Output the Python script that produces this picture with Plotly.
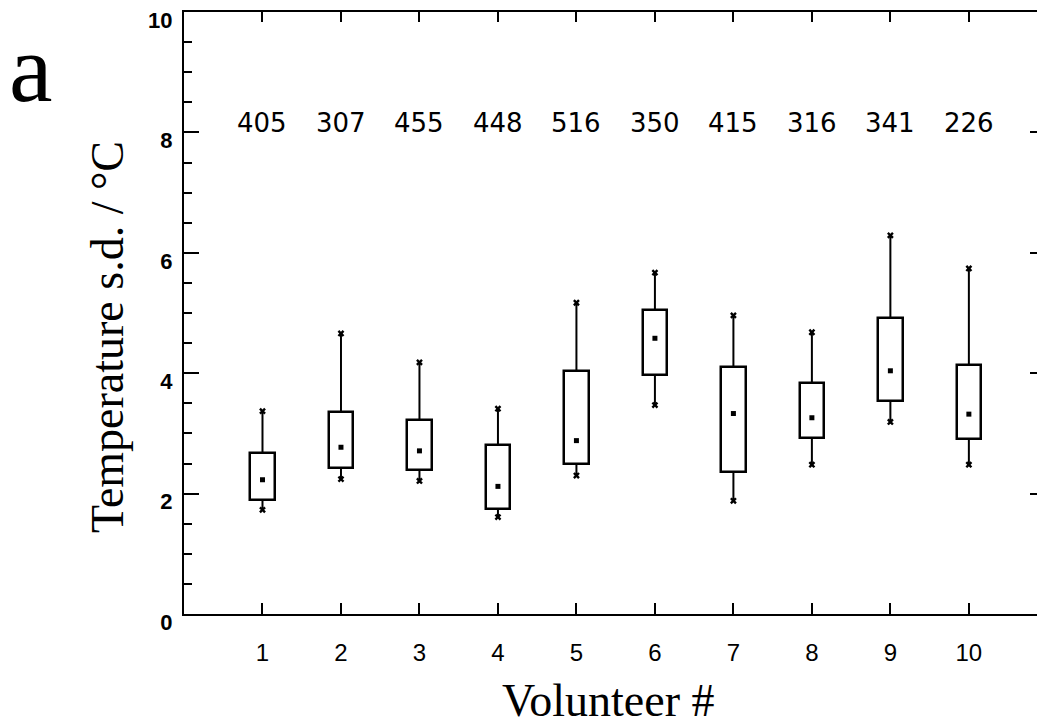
import plotly.graph_objects as go

# ---- data ----
volunteers = [1, 2, 3, 4, 5, 6, 7, 8, 9, 10]
counts = [405, 307, 455, 448, 516, 350, 415, 316, 341, 226]
whisker_low = [1.73, 2.24, 2.21, 1.61, 2.30, 3.47, 1.88, 2.48, 3.19, 2.48]
box_low = [1.90, 2.43, 2.40, 1.74, 2.50, 3.97, 2.36, 2.92, 3.53, 2.90]
mean_val = [2.23, 2.77, 2.71, 2.12, 2.88, 4.58, 3.33, 3.26, 4.04, 3.32]
box_high = [2.67, 3.35, 3.22, 2.80, 4.03, 5.05, 4.10, 3.84, 4.92, 4.13]
whisker_high = [3.37, 4.66, 4.18, 3.41, 5.17, 5.67, 4.96, 4.68, 6.29, 5.74]
y_ticks = [0, 2, 4, 6, 8, 10]

# figure geometry (pixels); the page body adds an 8px offset
OFF = 8
W, H = 1037, 718
L, R, T, B = 176, 0, 4, 112
plot_w = W - L - R
plot_h = H - T - B

def px_x(px):
    return (px - OFF - L) / plot_w

def px_y(py):
    return (H - B - (py - OFF)) / plot_h

fig = go.Figure()

# boxes as floating bars
fig.add_trace(go.Bar(
    x=volunteers,
    base=box_low,
    y=[h - l for h, l in zip(box_high, box_low)],
    width=0.31,
    marker=dict(color="white", line=dict(color="black", width=2.5)),
    showlegend=False, hoverinfo="skip",
))

# whiskers
wx, wy = [], []
for v, lo, bl, bh, hi in zip(volunteers, whisker_low, box_low, box_high, whisker_high):
    wx += [v, v, None, v, v, None]
    wy += [hi, bh, None, bl, lo, None]
fig.add_trace(go.Scatter(
    x=wx, y=wy, mode="lines",
    line=dict(color="black", width=2),
    showlegend=False, hoverinfo="skip",
))

# whisker end markers
fig.add_trace(go.Scatter(
    x=volunteers + volunteers, y=whisker_high + whisker_low, mode="markers",
    marker=dict(symbol="x", size=6, color="black"),
    showlegend=False, hoverinfo="skip",
))

# mean markers
fig.add_trace(go.Scatter(
    x=volunteers, y=mean_val, mode="markers",
    marker=dict(symbol="square", size=5, color="black"),
    showlegend=False, hoverinfo="skip",
))

# dummy trace to activate secondary axes (top / right ticks)
fig.add_trace(go.Scatter(x=[None], y=[None], xaxis="x2", yaxis="y2",
                         showlegend=False, hoverinfo="skip"))

# count labels
for v, c in zip(volunteers, counts):
    fig.add_annotation(x=v, y=8.16, xref="x", yref="y", text=str(c),
                       showarrow=False, xanchor="center", yanchor="middle",
                       font=dict(family="DejaVu Sans", size=26, color="black"))

# axis titles and panel letter
fig.add_annotation(x=px_x(107), y=px_y(337), xref="paper", yref="paper",
                   text="Temperature s.d. / °C", textangle=-90, showarrow=False,
                   xanchor="center", yanchor="middle",
                   font=dict(family="Liberation Serif", size=46, color="black"))
fig.add_annotation(x=px_x(608), y=px_y(700), xref="paper", yref="paper",
                   text="Volunteer #", showarrow=False,
                   xanchor="center", yanchor="middle",
                   font=dict(family="Liberation Serif", size=46, color="black"))
fig.add_annotation(x=px_x(31), y=px_y(68), xref="paper", yref="paper",
                   text="a", showarrow=False,
                   xanchor="center", yanchor="middle",
                   font=dict(family="Liberation Serif", size=98, color="black"))

xr = [0, 10.97]
fig.update_layout(
    width=W, height=H,
    margin=dict(l=L, r=R, t=T, b=B, autoexpand=False),
    paper_bgcolor="white", plot_bgcolor="white",
    bargap=0,
    xaxis=dict(
        range=xr, tickvals=volunteers, ticktext=[str(v) for v in volunteers],
        ticks="inside", ticklen=11, tickwidth=2, tickcolor="black",
        showline=True, linewidth=2, linecolor="black",
        showgrid=False, zeroline=False, automargin=False,
        tickfont=dict(family="Liberation Sans", size=24, color="black"),
        ticklabelstandoff=16,
    ),
    xaxis2=dict(
        range=xr, overlaying="x", side="top", tickvals=volunteers,
        ticks="inside", ticklen=10, tickwidth=2, tickcolor="black",
        showline=True, linewidth=2, linecolor="black", automargin=False,
        showticklabels=False, showgrid=False, zeroline=False,
    ),
    yaxis=dict(
        range=[0, 10], tickvals=y_ticks,
        ticks="inside", ticklen=15, tickwidth=2, tickcolor="black",
        minor=dict(dtick=0.5, ticks="inside", ticklen=8, tickwidth=2, tickcolor="black"),
        showline=True, linewidth=2, linecolor="black",
        showgrid=False, zeroline=False, automargin=False,
        tickfont=dict(family="Liberation Sans", size=22, color="black", weight="bold"),
        ticklabelstandoff=5,
        ticklabelshift=8,
        ticklabeloverflow="allow",
    ),
    yaxis2=dict(
        range=[0, 10], overlaying="y", side="right", tickvals=y_ticks,
        ticks="inside", ticklen=15, tickwidth=2, tickcolor="black",
        minor=dict(dtick=0.5, ticks="inside", ticklen=8, tickwidth=2, tickcolor="black"),
        showline=False, showticklabels=False, showgrid=False, zeroline=False,
        automargin=False,
    ),
)

fig.write_html("out.html")
